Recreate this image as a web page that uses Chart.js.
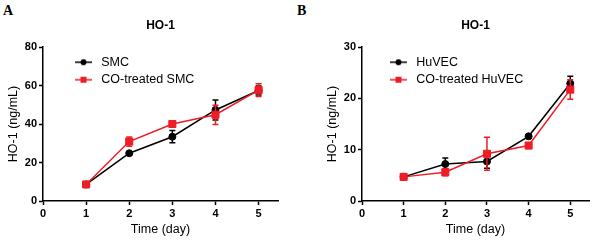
<!DOCTYPE html>
<html>
<head>
<meta charset="utf-8">
<title>HO-1</title>
<script src="https://cdn.jsdelivr.net/npm/chart.js@4.4.1/dist/chart.umd.min.js"></script>
<style>
	body { margin: 0; background: #fff; width: 598px; height: 242px; position: relative; overflow: hidden; }
	canvas { position: absolute; top: 0; }
	.lab { position: absolute; top: 4px; font: bold 14px 'Liberation Serif', 'Times New Roman', serif; line-height: 1; color: #000; }
</style>
</head>
<body>
<div class="lab" style="left:3px">A</div>
<div class="lab" style="left:297px">B</div>
<canvas id="chartA" width="299" height="242" style="left:0"></canvas>
<canvas id="chartB" width="299" height="242" style="left:299px"></canvas>

<script>
	// data
	const days = [1, 2, 3, 4, 5];
	const xTicks = [0, 1, 2, 3, 4, 5];

	const smc = [8.6, 24.8, 33.4, 47.3, 57.4];
	const smcErr = [0.5, 0.8, 3.2, 5.2, 2.3];
	const coSmc = [8.6, 30.9, 40.0, 44.8, 57.6];
	const coSmcErr = [0.6, 2.4, 0.8, 5.0, 3.3];

	const huvec = [4.7, 7.2, 7.7, 12.6, 22.9];
	const huvecErr = [0.2, 1.2, 1.3, 0.3, 1.4];
	const coHuvec = [4.7, 5.6, 9.2, 10.8, 21.7];
	const coHuvecErr = [0.2, 0.7, 3.2, 0.3, 1.9];

	const black = '#000000';
	const red = '#ee1c24';

	Chart.defaults.font.family = "'Liberation Sans', Arial, sans-serif";
	Chart.defaults.color = '#000';

	// small icon for the legend: line with the marker on it
	function legendIcon(color, shape) {
		const c = document.createElement('canvas');
		c.width = 20; c.height = 10;
		const g = c.getContext('2d');
		g.strokeStyle = color; g.fillStyle = color; g.lineWidth = 1.5;
		g.beginPath(); g.moveTo(0, 5); g.lineTo(17, 5); g.stroke();
		if (shape == 'circle') {
			g.beginPath(); g.arc(8.5, 5, 3, 0, Math.PI * 2); g.fill();
		} else {
			g.fillRect(5.5, 2, 6, 6);
		}
		return c;
	}

	// error bars, drawn just before each dataset
	const errorBars = {
		id: 'errorBars',
		beforeDatasetDraw(chart, args) {
			const ds = chart.data.datasets[args.index];
			if (!ds.err) return;
			const x = chart.scales.x, y = chart.scales.y, ctx = chart.ctx;
			ctx.save();
			ctx.strokeStyle = ds.borderColor;
			ctx.lineWidth = 1.5;
			ds.data.forEach((p, i) => {
				const px = x.getPixelForValue(p.x);
				const top = y.getPixelForValue(p.y + ds.err[i]);
				const bot = y.getPixelForValue(p.y - ds.err[i]);
				ctx.beginPath();
				ctx.moveTo(px, top); ctx.lineTo(px, bot);
				ctx.moveTo(px - 3, top); ctx.lineTo(px + 3, top);
				ctx.moveTo(px - 3, bot); ctx.lineTo(px + 3, bot);
				ctx.stroke();
			});
			ctx.restore();
		}
	};

	function makeChart(id, names, series, errs, yMax, yStep, pad, legendDx) {
		const ds = [
			{ label: names[0], data: days.map((d, i) => ({x: d, y: series[0][i]})), err: errs[0],
			  borderColor: black, backgroundColor: black, pointStyle: 'circle', pointRadius: 3.5, order: 1 },
			{ label: names[1], data: days.map((d, i) => ({x: d, y: series[1][i]})), err: errs[1],
			  borderColor: red, backgroundColor: red, pointStyle: 'rect', pointRadius: 5, order: 0 }
		];
		ds.forEach(d => { d.borderWidth = 1.5; d.pointBorderWidth = 1; d.pointBackgroundColor = d.borderColor; d.tension = 0; });
		const icons = [legendIcon(black, 'circle'), legendIcon(red, 'rect')];

		// put the legend box inside the plot, top left
		const shiftLegend = {
			id: 'shiftLegend',
			afterLayout(chart) {
				chart.legend.left = chart.chartArea.left + legendDx;
				chart.legend.top = chart.chartArea.top + 4;
			}
		};

		return new Chart(document.getElementById(id), {
			type: 'line',
			data: { datasets: ds },
			plugins: [errorBars, shiftLegend],
			options: {
				responsive: false,
				animation: false,
				layout: { padding: pad },
				plugins: {
					title: { display: true, text: 'HO-1', fullSize: false, color: '#000',
						font: { size: 12, weight: 'bold' }, padding: { top: 18.5, bottom: 14.1 } },
					legend: {
						position: 'chartArea', align: 'start',
						labels: {
							usePointStyle: true, pointStyleWidth: 20, boxHeight: 12.5, padding: 5,
							color: '#000', font: { size: 12.5 },
							generateLabels: chart => chart.data.datasets.map((d, i) => ({
								text: d.label, pointStyle: icons[i], datasetIndex: i, hidden: false,
								fillStyle: d.borderColor, strokeStyle: d.borderColor, lineWidth: 0
							}))
						}
					},
					tooltip: { enabled: false }
				},
				scales: {
					x: {
						type: 'linear', min: 0, max: 5.45,
						afterBuildTicks: s => { s.ticks = xTicks.map(v => ({value: v})); },
						afterFit: s => { s.height = 41; },
						grid: { drawOnChartArea: false, tickLength: 4, tickWidth: 1.5, tickColor: '#000' },
						border: { color: '#000', width: 1.5 },
						ticks: { color: '#000', padding: 2, font: { size: 11, weight: 'bold' } },
						title: { display: true, text: 'Time (day)', color: '#000', font: { size: 12.5 },
							padding: { top: 0, bottom: 4.5 } }
					},
					y: {
						min: 0, max: yMax,
						afterFit: s => { s.width = 43; },
						grid: { drawOnChartArea: false, tickLength: 4, tickWidth: 1.5, tickColor: '#000' },
						border: { color: '#000', width: 1.5 },
						ticks: { stepSize: yStep, color: '#000', padding: 2, font: { size: 11, weight: 'bold' } },
						title: { display: true, text: 'HO-1 (ng/mL)', color: '#000', font: { size: 12.5 },
							padding: { top: 6.5, bottom: 0 } }
					}
				}
			}
		});
	}

	makeChart('chartA', ['SMC', 'CO-treated SMC'], [smc, coSmc], [smcErr, coSmcErr],
		80, 20, { left: 0, right: 21, top: 0, bottom: 0 }, 27);
	makeChart('chartB', ['HuVEC', 'CO-treated HuVEC'], [huvec, coHuvec], [huvecErr, coHuvecErr],
		30, 10, { left: 20, right: 9, top: 0, bottom: 0 }, 23);
</script>
</body>
</html>
